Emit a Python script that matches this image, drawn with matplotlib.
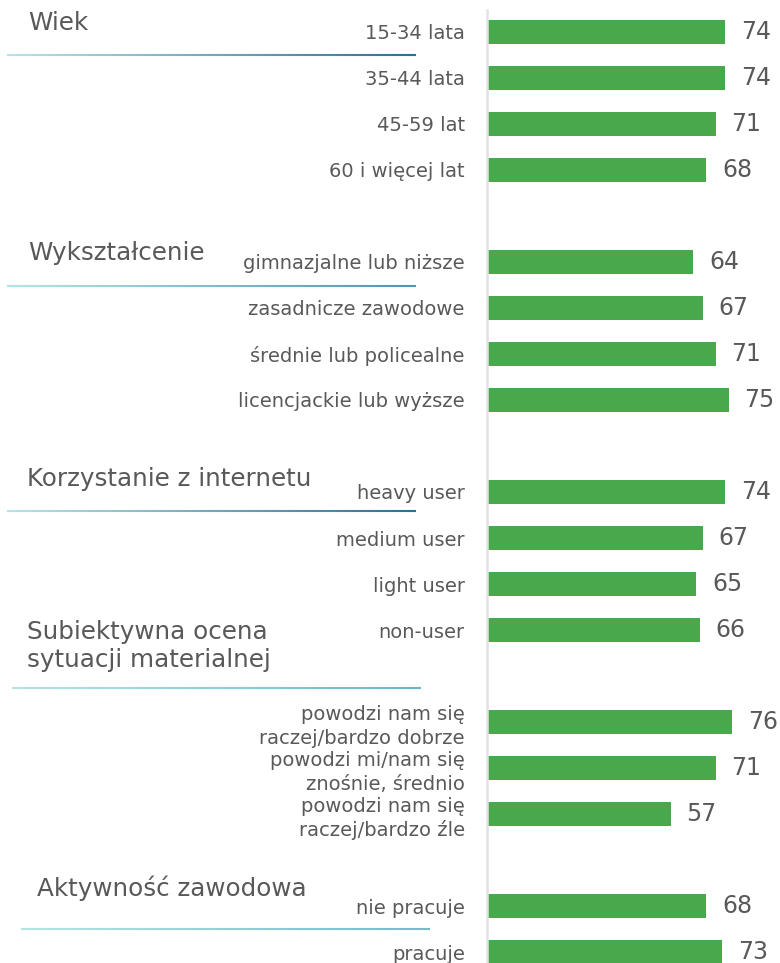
import matplotlib
matplotlib.use("Agg")
import matplotlib.pyplot as plt
import numpy as np
from matplotlib.collections import LineCollection
from matplotlib.colors import to_rgb

plt.rcParams['font.family'] = ['DejaVu Sans']

# ---- data ----
categories = [
    "15-34 lata", "35-44 lata", "45-59 lat", "60 i więcej lat",
    "gimnazjalne lub niższe", "zasadnicze zawodowe", "średnie lub policealne", "licencjackie lub wyższe",
    "heavy user", "medium user", "light user", "non-user",
    "powodzi nam się\nraczej/bardzo dobrze", "powodzi mi/nam się\nznośnie, średnio", "powodzi nam się\nraczej/bardzo źle",
    "nie pracuje", "pracuje",
]
values = [74, 74, 71, 68,
          64, 67, 71, 75,
          74, 67, 65, 66,
          76, 71, 57,
          68, 73]
# row slot of each category (empty slots separate groups)
slots = [0, 1, 2, 3,
         5, 6, 7, 8,
         10, 11, 12, 13,
         15, 16, 17,
         19, 20]
groups = ["Wiek", "Wykształcenie", "Korzystanie z internetu",
          "Subiektywna ocena\nsytuacji materialnej", "Aktywność zawodowa"]

# ---- layout ----
W, H = 780, 963
fig = plt.figure(figsize=(W / 100, H / 100), dpi=100)
fig.patch.set_facecolor("white")

x0 = 487
ax = fig.add_axes([x0 / W, 0, (W - x0) / W, 1])
px_per_unit = 3.22
ax.set_xlim(0, (W - x0) / px_per_unit)
row_px = 46
top_px = 32
ax.set_ylim((H - top_px) / row_px, -top_px / row_px)

green = "#4aa84c"
text_gray = "#595959"
ax.barh(slots, values, height=24 / row_px, color=green, edgecolor="none")
for s, v in zip(slots, values):
    ax.text(v + 16 / px_per_unit, s, str(v), va="center", ha="left",
            fontsize=17, color=text_gray)

ax.set_yticks(slots)
ax.set_yticklabels(categories, fontsize=14, color=text_gray, linespacing=1.3)
ax.tick_params(axis="y", length=0, pad=16)
ax.tick_params(axis="x", bottom=False, labelbottom=False)
for sp in ["top", "right", "bottom"]:
    ax.spines[sp].set_visible(False)
ax.spines["left"].set_color("#e3e3e3")
ax.spines["left"].set_linewidth(1.8)
ax.spines["left"].set_bounds((H - top_px) / row_px, (10 - top_px) / row_px)

# ---- group headers ----
headers = [
    (28, 23, groups[0]),
    (28, 253, groups[1]),
    (27, 479, groups[2]),
    (27, 646, groups[3]),
    (37, 888, groups[4]),
]
for hx, hy, txt in headers:
    fig.text(hx / W, 1 - hy / H, txt, ha="left", va="center", fontsize=17.7,
             color=text_gray, linespacing=1.25)

# gradient underlines
rules = [
    (7, 416, 55, "#b4e4e4", "#2c6f98"),
    (7, 416, 286, "#b4e4e4", "#4e95b4"),
    (7, 416, 511, "#b4e4e4", "#2c6f98"),
    (12, 421, 688, "#b4e4e4", "#68b6cb"),
    (21, 430, 929, "#b4e4e4", "#74bbca"),
]
for xa, xb, yy, ca, cb in rules:
    n = 120
    xs = np.linspace(xa, xb, n + 1) / W
    segs = [[(xs[i], 1 - yy / H), (xs[i + 1], 1 - yy / H)] for i in range(n)]
    a, b = np.array(to_rgb(ca)), np.array(to_rgb(cb))
    cols = [a + (b - a) * t for t in np.linspace(0, 1, n)]
    lc = LineCollection(segs, colors=cols, linewidths=1.5, transform=fig.transFigure)
    fig.add_artist(lc)

fig.savefig("out.png", dpi=100, facecolor="white")
